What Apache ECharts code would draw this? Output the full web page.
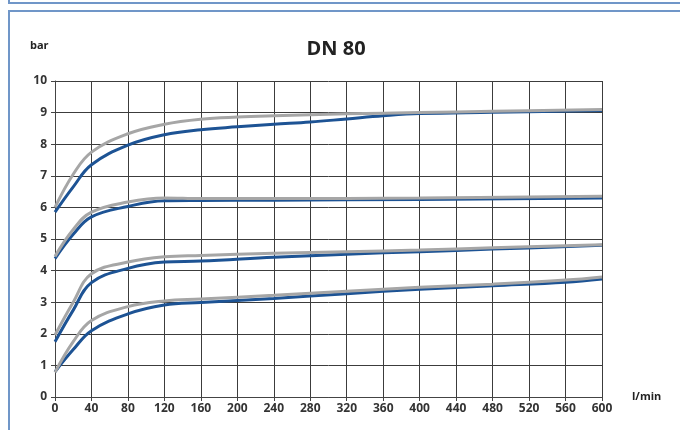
<!DOCTYPE html>
<html>
<head>
<meta charset="utf-8">
<script src="https://cdn.jsdelivr.net/npm/echarts@6/dist/echarts.min.js"></script>
<style>html,body{margin:0;padding:0;background:#fff}#c{width:680px;height:430px}</style>
</head>
<body>
<div id="c"></div>
<script>
const xTicks = [0,40,80,120,160,200,240,280,320,360,400,440,480,520,560,600];
const gray1 = [[0,6.0],[20,7.05],[40,7.75],[80,8.33],[120,8.63],[160,8.79],[200,8.86],[240,8.9],[320,8.96],[400,9.0],[480,9.04],[600,9.1]];
const blue1 = [[0,5.85],[20,6.65],[40,7.35],[80,7.97],[120,8.3],[160,8.46],[200,8.55],[240,8.63],[280,8.7],[320,8.8],[360,8.9],[400,8.97],[480,9.01],[600,9.07]];
const gray2 = [[0,4.45],[20,5.3],[40,5.85],[80,6.17],[120,6.3],[160,6.28],[240,6.28],[400,6.3],[600,6.35]];
const blue2 = [[0,4.38],[20,5.15],[40,5.7],[80,6.03],[120,6.21],[160,6.22],[240,6.23],[400,6.25],[600,6.3]];
const gray3 = [[0,1.96],[20,3.0],[40,3.9],[80,4.27],[120,4.44],[160,4.48],[240,4.55],[320,4.6],[400,4.65],[480,4.72],[600,4.82]];
const blue3 = [[0,1.75],[20,2.75],[40,3.62],[80,4.07],[120,4.27],[160,4.3],[240,4.42],[320,4.52],[400,4.6],[480,4.68],[600,4.8]];
const gray4 = [[0,0.78],[20,1.75],[40,2.42],[80,2.86],[120,3.04],[160,3.1],[240,3.22],[320,3.35],[400,3.47],[480,3.57],[560,3.7],[600,3.8]];
const blue4 = [[0,0.8],[20,1.5],[40,2.1],[80,2.63],[120,2.91],[160,2.99],[240,3.12],[320,3.27],[400,3.41],[480,3.52],[560,3.63],[600,3.73]];

const GRAY = '#a6a6a6', BLUE = '#1d5394';
const FONT = '"Open Sans", "Noto Sans", sans-serif';
function line(data, color) {
  return { type: 'line', data: data, smooth: 0.4, symbol: 'none',
    lineStyle: { color: color, width: 3 }, z: color === GRAY ? 3 : 2 };
}
const chart = echarts.init(document.getElementById('c'));
chart.setOption({
  animation: false,
  backgroundColor: '#fff',
  title: {
    text: 'DN 80', left: 331, top: 34, textAlign: 'center',
    textStyle: { fontFamily: FONT, fontWeight: 'bold', fontSize: 20, color: '#222' }
  },
  graphic: [
    { type: 'polyline', shape: { points: [[9,0],[9,3],[680,3]] }, style: { stroke: '#7096c8', lineWidth: 2, fill: null } },
    { type: 'polyline', shape: { points: [[9,430],[9,11],[680,11]] }, style: { stroke: '#7096c8', lineWidth: 2, fill: null } },
    { type: 'text', left: 30, top: 40, style: { text: 'bar', font: 'bold 11px ' + FONT, fill: '#222' } }
  ],
  grid: { left: 55, right: 78, top: 81, bottom: 33 },
  xAxis: {
    type: 'value', min: 0, max: 600, interval: 40,
    name: 'l/min', nameLocation: 'end', nameGap: 30,
    nameTextStyle: { fontFamily: FONT, fontWeight: 'bold', fontSize: 11, color: '#222', padding: [24, 0, 0, 0] },
    axisLine: { show: true, lineStyle: { color: '#444', width: 1 } },
    axisTick: { show: true, length: 4, lineStyle: { color: '#444' } },
    axisLabel: { fontFamily: FONT, fontWeight: 'bold', fontSize: 12, color: '#333', margin: 6,
      formatter: v => xTicks.includes(v) ? String(v) : '' },
    splitLine: { show: true, lineStyle: { color: '#3c3c3c', width: 1 } }
  },
  yAxis: {
    type: 'value', min: 0, max: 10, interval: 1,
    axisLine: { show: true, lineStyle: { color: '#444', width: 1 } },
    axisTick: { show: true, length: 4, lineStyle: { color: '#444' } },
    axisLabel: { fontFamily: FONT, fontWeight: 'bold', fontSize: 12, color: '#333', margin: 8 },
    splitLine: { show: true, lineStyle: { color: '#3c3c3c', width: 1 } }
  },
  series: [
    line(blue1, BLUE), line(gray1, GRAY),
    line(blue2, BLUE), line(gray2, GRAY),
    line(blue3, BLUE), line(gray3, GRAY),
    line(blue4, BLUE), line(gray4, GRAY)
  ]
});
</script>
</body>
</html>
